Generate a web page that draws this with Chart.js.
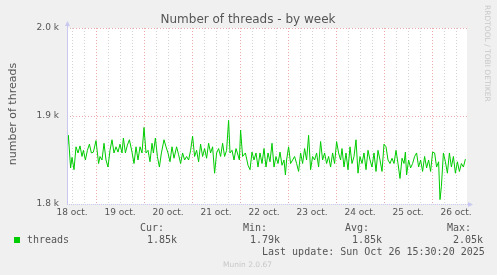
<!DOCTYPE html>
<html>
<head>
<meta charset="utf-8">
<script src="https://cdn.jsdelivr.net/npm/chart.js@4/dist/chart.umd.min.js"></script>
<style>
  html, body { margin: 0; padding: 0; background: #f0f0f0; }
  canvas { display: block; }
</style>
</head>
<body>
<canvas id="chart" width="497" height="275"></canvas>
<script>
// hours since 18 oct. 00:00
const hours = [
  9.5, 10.2, 11.3, 12, 13, 14, 15, 16, 17, 17.7, 18.7, 19.7, 20.7, 21.7, 22.7, 24, 25.3, 26, 27, 28,
  29, 30, 31, 32, 33, 34, 35, 36, 37, 37.7, 38.7, 39.7, 40.7, 42, 43, 44, 45, 46, 47, 48,
  49, 50, 51, 52, 52.7, 53.7, 54.7, 55.7, 56.7, 58, 59, 60, 61, 62, 63, 64.3, 65.3, 66.3, 67.3, 68.3,
  69.3, 70.3, 71.3, 72.3, 73.3, 74.3, 75.3, 76.3, 77.3, 78.3, 79.3, 80.3, 81.3, 82.3, 83.3, 84.3, 85.3, 86.3, 87.3, 88.3,
  89.3, 90.3, 91, 92, 93, 94, 94.7, 95.7, 96.3, 97.3, 98.7, 100,
  101, 102, 103, 104, 105, 106, 107, 108, 109, 110, 111, 112, 113, 114, 115, 116, 117, 118, 118.7, 119.3,
  120.3, 121.3, 122.3, 123.3, 124.3, 125.3, 126.3, 127.3, 128.3, 129.3, 130.3, 131.3, 132.3, 133.3, 134.3, 135.3, 136.3, 137.3, 138.3, 139.3,
  140.3, 141.3, 142.3, 143.3, 144.3, 145.3, 146.3, 147, 148, 149, 150, 151, 152, 153, 154, 155, 156, 157, 158, 159,
  160, 161, 162, 163, 164, 165, 166, 167, 168, 169, 170, 171, 172, 173, 174, 175, 176, 177, 178, 178.7,
  179.3, 180.3, 181.3, 182.3, 183.3, 184.3, 185.3, 186.3, 187.3, 188.3, 189.3, 190.3, 191.3, 192.3, 193.3, 194.3, 195.3, 196, 196.7, 197.7,
  198.7, 199.7, 200.7, 201.7, 202.7, 203.7, 204.7, 205.7, 206.7, 207.7, 208.7
];
const threads = [
  1858, 1878, 1841, 1853, 1839, 1865, 1858, 1866, 1854, 1861, 1850, 1861, 1868, 1858, 1859, 1872, 1846, 1854, 1850, 1869,
  1850, 1842, 1861, 1873, 1858, 1865, 1859, 1868, 1858, 1875, 1858, 1867, 1873, 1859, 1846, 1865, 1850, 1865, 1858, 1887,
  1858, 1861, 1848, 1869, 1858, 1875, 1854, 1842, 1858, 1873, 1865, 1858, 1848, 1865, 1852, 1865, 1856, 1846, 1858, 1850,
  1854, 1850, 1861, 1877, 1854, 1861, 1848, 1868, 1854, 1863, 1852, 1869, 1858, 1865, 1835, 1858, 1863, 1854, 1869, 1854,
  1861, 1895, 1858, 1861, 1850, 1863, 1858, 1850, 1884, 1854, 1858, 1844,
  1839, 1859, 1850, 1858, 1842, 1858, 1846, 1863, 1842, 1858, 1848, 1869, 1842, 1854, 1846, 1859, 1844, 1850, 1833, 1850,
  1865, 1846, 1850, 1854, 1846, 1837, 1858, 1846, 1863, 1850, 1878, 1839, 1854, 1850, 1858, 1842, 1871, 1850, 1858, 1846,
  1854, 1842, 1858, 1846, 1871, 1858, 1850, 1863, 1842, 1858, 1839, 1865, 1846, 1854, 1873, 1835, 1854, 1846, 1858, 1839,
  1861, 1850, 1842, 1858, 1837, 1861, 1850, 1837, 1868, 1865, 1850, 1846, 1852, 1846, 1861, 1846, 1829, 1852, 1846, 1859,
  1833, 1850, 1841, 1846, 1854, 1858, 1842, 1850, 1837, 1854, 1841, 1850, 1837, 1859, 1858, 1842, 1848, 1805, 1820, 1858,
  1848, 1835, 1858, 1842, 1854, 1835, 1848, 1837, 1846, 1842, 1851
];
const dayLabels = ["18 oct.", "19 oct.", "20 oct.", "21 oct.", "22 oct.", "23 oct.", "24 oct.", "25 oct.", "26 oct."];
const yTicks = [1800, 1900, 2000];
const legendStats = { cur: "1.85k", min: "1.79k", avg: "1.85k", max: "2.05k" };

const SANS = '"DejaVu Sans", sans-serif';
const MONO = '"DejaVu Sans Mono", monospace';
const GREEN = "#00cc00";
const AXIS = "#c8c8f0";

const munin = {
  id: "munin",
  beforeDraw(chart) {
    const { ctx, chartArea: a } = chart;
    ctx.save();
    ctx.fillStyle = "#f0f0f0";
    ctx.fillRect(0, 0, chart.width, chart.height);
    ctx.fillStyle = "#ffffff";
    ctx.fillRect(a.left, a.top, a.right - a.left, a.bottom - a.top);
    ctx.restore();
  },
  afterDraw(chart) {
    const { ctx, chartArea: a } = chart;
    ctx.save();
    // axes
    ctx.strokeStyle = AXIS;
    ctx.lineWidth = 1;
    ctx.beginPath();
    ctx.moveTo(a.left + 0.5, a.bottom);
    ctx.lineTo(a.left + 0.5, a.top - 4);
    ctx.stroke();
    ctx.setLineDash([1, 1]);
    ctx.beginPath();
    ctx.moveTo(a.left, a.bottom + 0.5);
    ctx.lineTo(a.right + 3, a.bottom + 0.5);
    ctx.stroke();
    ctx.setLineDash([]);
    ctx.fillStyle = AXIS;
    ctx.beginPath();
    ctx.moveTo(a.left - 2, a.top - 2);
    ctx.lineTo(a.left + 3, a.top - 2);
    ctx.lineTo(a.left + 0.5, a.top - 7);
    ctx.closePath();
    ctx.fill();
    ctx.beginPath();
    ctx.moveTo(a.right + 1, a.bottom - 2);
    ctx.lineTo(a.right + 1, a.bottom + 3);
    ctx.lineTo(a.right + 6, a.bottom + 0.5);
    ctx.closePath();
    ctx.fill();

    // title
    ctx.fillStyle = "#555";
    ctx.font = "12px " + SANS;
    ctx.textAlign = "center";
    ctx.textBaseline = "alphabetic";
    ctx.fillText("Number of threads - by week", 248, 23);

    // y title
    ctx.save();
    ctx.translate(16, (a.top + a.bottom) / 2 - 2);
    ctx.rotate(-Math.PI / 2);
    ctx.font = "11px " + SANS;
    ctx.fillText("number of threads", 0, 0);
    ctx.restore();

    // rrdtool credit
    ctx.save();
    ctx.translate(485, 5);
    ctx.rotate(Math.PI / 2);
    ctx.fillStyle = "#c8c8c8";
    ctx.font = "7.5px " + SANS;
    ctx.textAlign = "left";
    ctx.fillText("RRDTOOL / TOBI OETIKER", 0, 0);
    ctx.restore();

    // legend
    ctx.textAlign = "left";
    ctx.font = "10px " + MONO;
    ctx.fillStyle = "#555";
    ctx.fillText("Cur:", 140, 231);
    ctx.fillText("Min:", 243, 231);
    ctx.fillText("Avg:", 345, 231);
    ctx.fillText("Max:", 447, 231);
    ctx.fillText("threads", 27, 243);
    ctx.fillText(legendStats.cur, 147, 243);
    ctx.fillText(legendStats.min, 250, 243);
    ctx.fillText(legendStats.avg, 352, 243);
    ctx.fillText(legendStats.max, 453, 243);
    ctx.fillText("Last update: Sun Oct 26 15:30:20 2025", 262, 255);
    ctx.fillStyle = GREEN;
    ctx.fillRect(14, 237, 6, 6);

    ctx.fillStyle = "#c8c8c8";
    ctx.font = "7.5px " + SANS;
    ctx.fillText("Munin 2.0.67", 223, 267);
    ctx.restore();
  }
};

new Chart(document.getElementById("chart"), {
  type: "line",
  plugins: [munin],
  data: {
    datasets: [{
      data: hours.map((h, i) => ({ x: h, y: threads[i] })),
      borderColor: GREEN,
      borderWidth: 1,
      pointRadius: 0,
      tension: 0,
      fill: false
    }]
  },
  options: {
    responsive: false,
    devicePixelRatio: 1,
    animation: false,
    layout: { padding: { left: 0, top: 28, right: 30, bottom: 51 } },
    plugins: { legend: { display: false }, tooltip: { enabled: false }, title: { display: false } },
    scales: {
      x: {
        type: "linear",
        min: 9.5,
        max: 209.5,
        afterBuildTicks(scale) {
          const t = [];
          for (let h = 12; h <= 204; h += 6) t.push({ value: h });
          scale.ticks = t;
        },
        afterFit(scale) { scale.height = 20; },
        ticks: {
          autoSkip: false,
          maxRotation: 0,
          padding: 3,
          color: "#555",
          font: { family: SANS, size: 9 },
          callback: v => ((v - 12) % 24 === 0 ? dayLabels[(v - 12) / 24] : "")
        },
        grid: {
          drawTicks: false,
          color: c => (c.tick && c.tick.value % 24 === 0 ? "#f0a8a8" : "#d4d4d4"),
          lineWidth: 1
        },
        border: { display: false, dash: [1, 2] }
      },
      y: {
        min: 1800,
        max: 2000,
        afterBuildTicks(scale) { scale.ticks = yTicks.map(v => ({ value: v })); },
        afterFit(scale) { scale.width = 67; },
        ticks: {
          padding: 8,
          color: "#555",
          font: { family: SANS, size: 9 },
          callback: v => (v / 1000).toFixed(1) + " k"
        },
        grid: {
          drawTicks: false,
          color: c => (c.tick && c.tick.value > 1800 ? "#f0a8a8" : "rgba(0,0,0,0)"),
          lineWidth: 1
        },
        border: { display: false, dash: [1, 2] }
      }
    }
  }
});
</script>
</body>
</html>
